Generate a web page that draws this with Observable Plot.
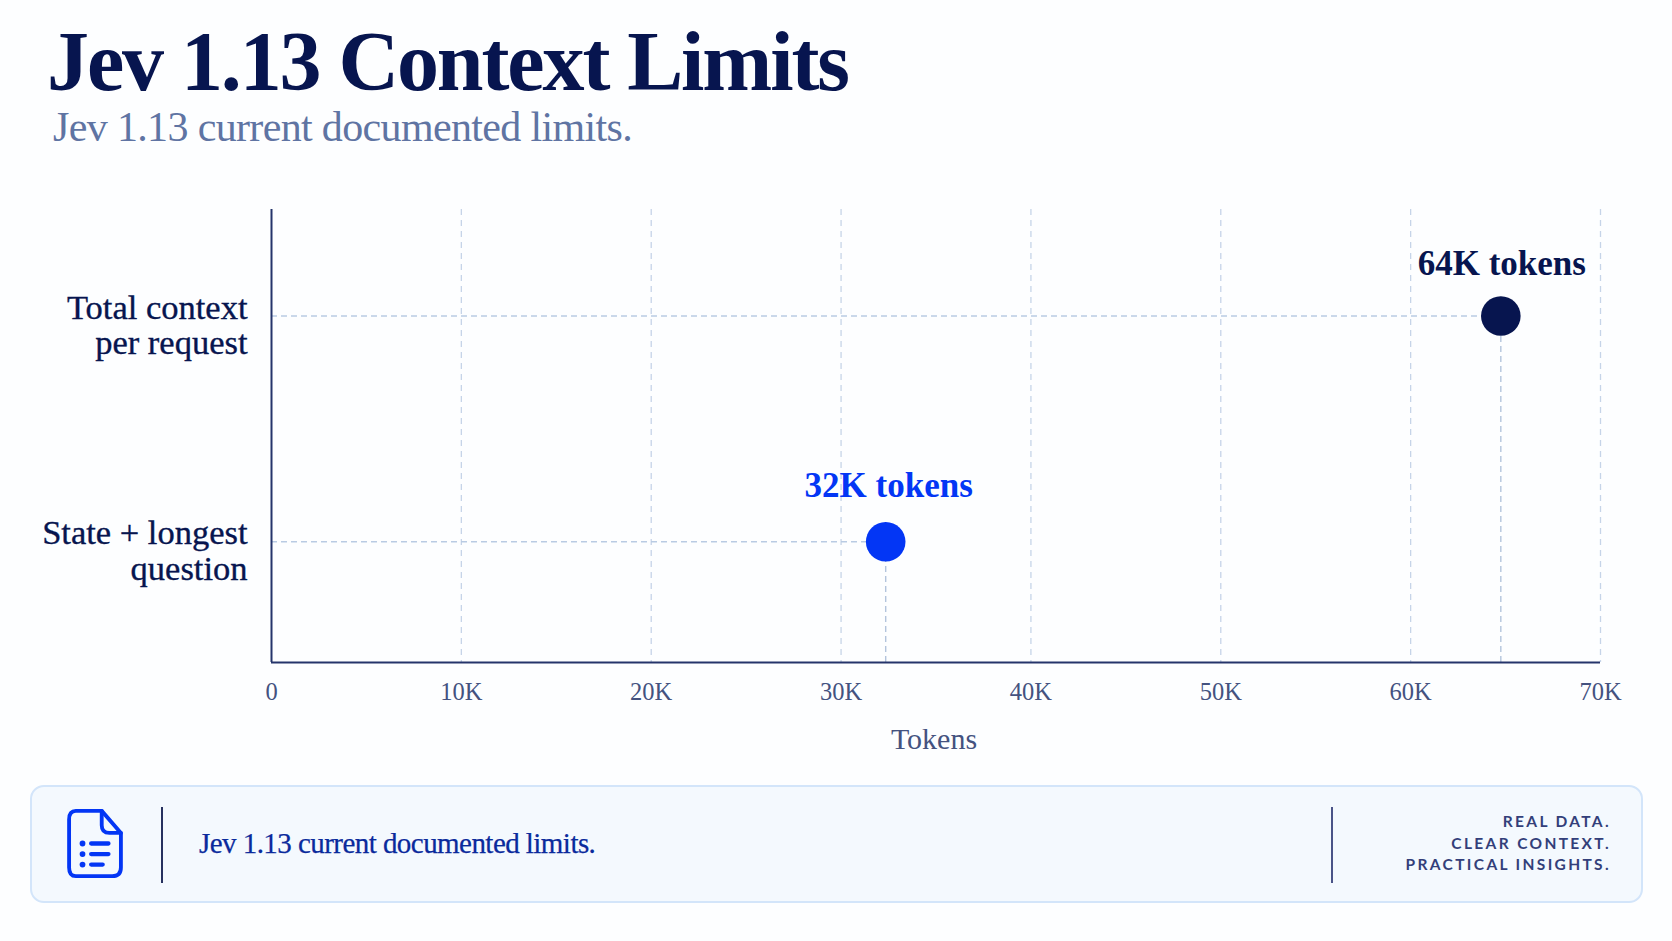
<!DOCTYPE html>
<html>
<head>
<meta charset="utf-8">
<script src="https://cdn.jsdelivr.net/npm/d3@7"></script>
<script src="https://cdn.jsdelivr.net/npm/@observablehq/plot@0.6"></script>
<style>
html,body{margin:0;padding:0;background:#fdfeff;}
body{width:1672px;height:941px;position:relative;overflow:hidden;font-family:"Liberation Serif",serif;}
#title{position:absolute;left:47px;top:14px;font-size:84px;line-height:96px;font-weight:700;color:#07154f;letter-spacing:-2.1px;white-space:nowrap;margin:0;}
#subtitle{position:absolute;left:53px;top:103px;font-size:42px;line-height:48px;color:#5f74a3;letter-spacing:-.65px;white-space:nowrap;}
#chart{position:absolute;left:0;top:170px;}
#chart g[aria-label="y-axis tick label"] text{stroke:#07154f;stroke-width:.35px;}
#foot{position:absolute;left:30px;top:785px;width:1609px;height:114px;box-sizing:content-box;background:#f4f9fe;border:2px solid #d3e5fa;border-radius:14px;}
#foot .div{position:absolute;width:2px;top:20px;height:76px;}
#foot svg{position:absolute;left:34px;top:21px;}
#foot .msg{position:absolute;left:167px;top:0;height:112px;line-height:112px;font-size:29px;color:#0a2a9c;letter-spacing:-.55px;white-space:nowrap;-webkit-text-stroke:.25px #0a2a9c;}
#foot .tag{position:absolute;right:30px;top:24px;text-align:right;font-family:Lato,sans-serif;font-weight:700;font-size:15.5px;line-height:21.7px;letter-spacing:2.35px;color:#333f7a;white-space:nowrap;}
</style>
</head>
<body>
<h1 id="title"></h1>
<div id="subtitle"></div>
<div id="chart"></div>
<div id="foot">
  <svg width="58" height="71" viewBox="0 0 60 74" fill="none" stroke="#0336f5" stroke-width="4" stroke-linecap="round" stroke-linejoin="round">
    <path d="M10 3H37L57 26V62Q57 71 48 71H10Q3 71 3 62V12Q3 3 10 3Z"/>
    <path d="M37 3V18Q37 26 45 26H57"/>
    <g stroke-width="4.5"><path d="M26 37H44M26 48H44M26 59H38"/></g>
    <g fill="#0336f5" stroke="none"><circle cx="17" cy="37" r="3"/><circle cx="17" cy="48" r="3"/><circle cx="17" cy="59" r="3"/></g>
  </svg>
  <div class="div" style="left:129px;background:#26315f"></div>
  <div class="msg"></div>
  <div class="div" style="left:1299px;background:#4a5488"></div>
  <div class="tag"></div>
</div>
<script>
const titleText = "Jev 1.13 Context Limits";
const subtitleText = "Jev 1.13 current documented limits.";
const footerText = "Jev 1.13 current documented limits.";
const tagLines = ["REAL DATA.", "CLEAR CONTEXT.", "PRACTICAL INSIGHTS."];

const categories = ["Total context\nper request", "State + longest\nquestion"];
const rows = [1, 0];
const tokens = [64750, 32350];
const valueLabels = ["64K tokens", "32K tokens"];
const colors = ["#07154f", "#0336f5"];
const xTicks = [0, 10000, 20000, 30000, 40000, 50000, 60000, 70000];
const xTickLabels = ["0", "10K", "20K", "30K", "40K", "50K", "60K", "70K"];
const xLabel = "Tokens";

document.getElementById("title").textContent = titleText;
document.getElementById("subtitle").textContent = subtitleText;
document.querySelector("#foot .msg").textContent = footerText;
document.querySelector("#foot .tag").innerHTML = tagLines.join("<br>");

const data = categories.map((c, i) => ({c, row: rows[i], v: tokens[i], label: valueLabels[i], color: colors[i]}));
const yMin = -0.535, yMax = 1.472;
const gridColor = "#c6d4e8";
const axisColor = "#25346b";
const labelStyle = {x: "v", y: "row", text: "label", fill: d => d.color, fontSize: 35, fontWeight: 700, letterSpacing: "-0.75px"};

const plot = Plot.plot({
  width: 1672,
  height: 592,
  marginLeft: 271,
  marginRight: 72,
  marginTop: 39,
  marginBottom: 100,
  style: {background: "transparent", fontFamily: "'Liberation Serif', serif", overflow: "visible"},
  x: {domain: [0, 70000]},
  y: {domain: [yMin, yMax]},
  marks: [
    Plot.ruleX(xTicks.slice(1), {stroke: gridColor, strokeWidth: 1.3, strokeDasharray: "6 5"}),
    Plot.ruleY(data, {y: "row", x1: 0, x2: "v", stroke: "#b9cbe3", strokeWidth: 1.4, strokeDasharray: "6 4"}),
    Plot.ruleX(data, {x: "v", y1: yMin, y2: "row", stroke: "#b3c4dc", strokeWidth: 1.4, strokeDasharray: "6 4"}),
    Plot.ruleX([0], {stroke: axisColor, strokeWidth: 2}),
    Plot.ruleY([yMin], {stroke: axisColor, strokeWidth: 2}),
    Plot.dot(data, {x: "v", y: "row", r: 19.8, fill: d => d.color, stroke: "none"}),
    Plot.text(data.filter(d => d.row === 1), {...labelStyle, dy: -52, dx: 1}),
    Plot.text(data.filter(d => d.row === 0), {...labelStyle, dy: -56, dx: 3}),
    Plot.axisX({ticks: xTicks, tickFormat: d => xTickLabels[xTicks.indexOf(d)], tickSize: 0, tickPadding: 20, fontSize: 24.5, letterSpacing: "-0.4px", color: "#44527f", label: null}),
    Plot.axisY({ticks: rows, tickFormat: d => categories[rows.indexOf(d)], tickSize: 0, tickPadding: 24, fontSize: 34.5, letterSpacing: "-0.35px", lineHeight: 1.02, dy: 9, color: "#07154f", label: null}),
    Plot.text([xLabel], {frameAnchor: "bottom", dy: 86, dx: -2, fontSize: 30, letterSpacing: "-0.1px", fill: "#44527f"})
  ]
});
document.getElementById("chart").appendChild(plot);
</script>
</body>
</html>
